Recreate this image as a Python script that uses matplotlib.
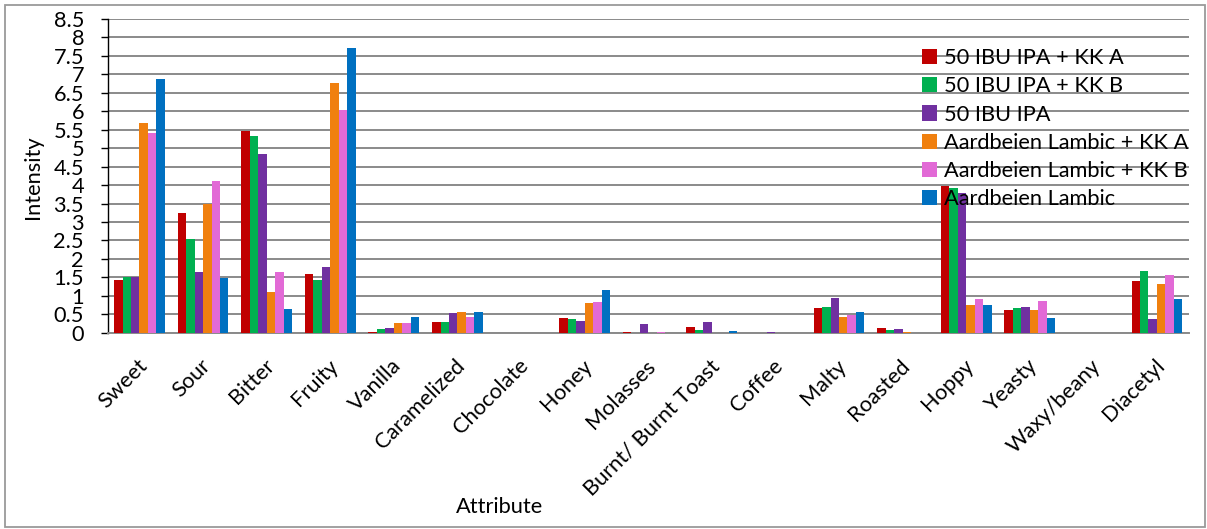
import numpy as np
import matplotlib

matplotlib.use("Agg")
import matplotlib.pyplot as plt
import matplotlib.transforms as mtransforms
from matplotlib.patches import Rectangle
from matplotlib.ticker import FormatStrFormatter, MultipleLocator

attributes = [
    "Sweet", "Sour", "Bitter", "Fruity", "Vanilla", "Caramelized", "Chocolate",
    "Honey", "Molasses", "Burnt/ Burnt Toast", "Coffee", "Malty", "Roasted",
    "Hoppy", "Yeasty", "Waxy/beany", "Diacetyl",
]

ipa_kk_a = [1.43, 3.25, 5.47, 1.60, 0.01, 0.29, 0.0, 0.39, 0.03, 0.15, 0.0,
            0.66, 0.12, 3.98, 0.62, 0.0, 1.39]
ipa_kk_b = [1.52, 2.54, 5.32, 1.43, 0.09, 0.29, 0.0, 0.38, 0.0, 0.07, 0.0,
            0.70, 0.07, 3.93, 0.68, 0.0, 1.67]
ipa = [1.52, 1.65, 4.85, 1.78, 0.12, 0.53, 0.0, 0.31, 0.24, 0.30, 0.01,
       0.93, 0.10, 3.78, 0.70, 0.0, 0.37]
lambic_kk_a = [5.67, 3.49, 1.10, 6.77, 0.26, 0.56, 0.0, 0.81, 0.0, 0.0, 0.0,
               0.43, 0.01, 0.74, 0.62, 0.0, 1.32]
lambic_kk_b = [5.40, 4.12, 1.65, 6.04, 0.26, 0.43, 0.0, 0.82, 0.01, 0.0, 0.0,
               0.48, 0.0, 0.92, 0.85, 0.0, 1.56]
lambic = [6.87, 1.47, 0.65, 7.71, 0.43, 0.55, 0.0, 1.16, 0.0, 0.04, 0.0,
          0.56, 0.0, 0.76, 0.39, 0.0, 0.91]

series = [
    ("50 IBU IPA + KK A", ipa_kk_a, "#C00000"),
    ("50 IBU IPA + KK B", ipa_kk_b, "#00B050"),
    ("50 IBU IPA", ipa, "#7030A0"),
    ("Aardbeien Lambic + KK A", lambic_kk_a, "#F0800F"),
    ("Aardbeien Lambic + KK B", lambic_kk_b, "#E26AD6"),
    ("Aardbeien Lambic", lambic, "#0070C0"),
]

plt.rcParams["font.family"] = ["Lato", "DejaVu Sans"]
FS = 15.7

W, H = 1207, 529
fig = plt.figure(figsize=(W / 100, H / 100), dpi=100)
ax = fig.add_axes([107.7 / W, 1 - 332.7 / H, (1188.7 - 107.7) / W, (332.7 - 19) / H])

x = np.arange(len(attributes))
bw = 0.133
for j, (name, vals, col) in enumerate(series):
    ax.bar(x + (j - 2.5) * bw, vals, width=bw, color=col, label=name, zorder=3)

ax.set_xlim(-0.5, len(attributes) - 0.5)
ax.set_ylim(0, 8.5)
ax.yaxis.set_major_locator(MultipleLocator(0.5))
ax.yaxis.set_major_formatter(FormatStrFormatter("%g"))
ax.grid(axis="y", color="#8a8a8a", linewidth=1.4, zorder=0)
ax.set_axisbelow(True)

for s in ("top", "right"):
    ax.spines[s].set_visible(False)
ax.spines["left"].set_color("black")
ax.spines["left"].set_linewidth(1.0)
ax.spines["bottom"].set_color("#8a8a8a")
ax.spines["bottom"].set_linewidth(1.4)

ax.tick_params(axis="y", direction="out", length=5, width=1.0, color="black",
               labelsize=FS, pad=12)
ax.set_xticks(x)
ax.set_xticklabels(attributes, rotation=45, ha="right", va="top",
                   rotation_mode="anchor", fontsize=FS)
ax.tick_params(axis="x", length=0, pad=16.5)
shift = mtransforms.ScaledTranslation(-0.025, 0, fig.dpi_scale_trans)
for lbl in ax.get_xticklabels():
    lbl.set_transform(lbl.get_transform() + shift)

ax.set_ylabel("Intensity", fontsize=FS)
ax.yaxis.set_label_coords(43 / W, 1 - 177 / H, transform=fig.transFigure)
fig.text(500 / W, 1 - 507 / H, "Attribute", ha="center", va="center", fontsize=FS)

leg = ax.legend(loc="upper left", bbox_to_anchor=(922 / W, 1 - 48 / H),
                bbox_transform=fig.transFigure, frameon=False, fontsize=FS,
                handlelength=0.7, handleheight=0.7, handletextpad=0.3,
                labelspacing=0.38, borderaxespad=0, borderpad=0)

fig.patches.append(Rectangle((5 / W, 2 / H), 1200 / W, 522 / H, transform=fig.transFigure,
                             fill=False, edgecolor="#9a9a9a", linewidth=1.3))

fig.savefig("out.png", dpi=100)
